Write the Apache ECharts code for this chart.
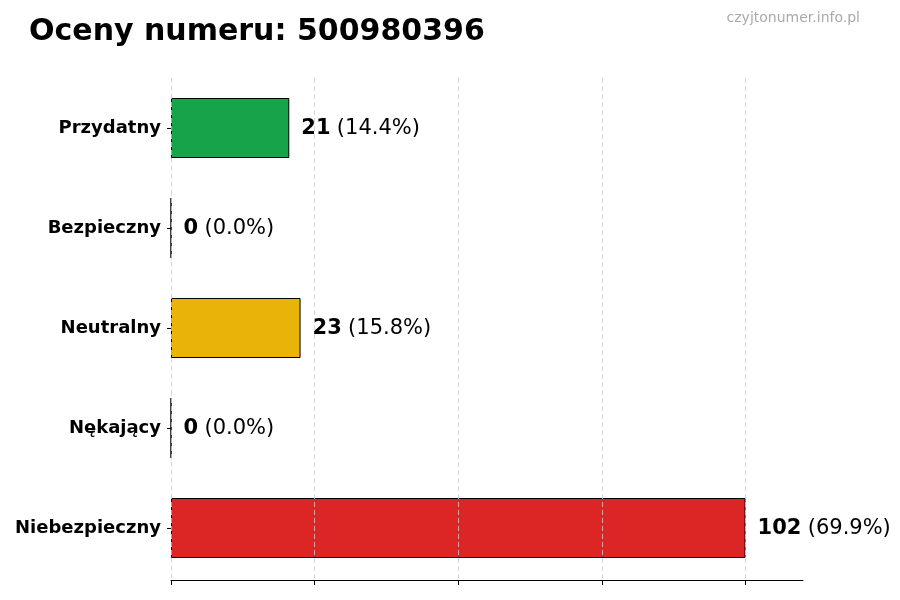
<!DOCTYPE html>
<html>
<head>
<meta charset="utf-8">
<script src="https://cdn.jsdelivr.net/npm/echarts@6/dist/echarts.min.js"></script>
<style>
html,body{margin:0;padding:0;background:#fff;}
#c{width:900px;height:600px;}
</style>
</head>
<body>
<div id="c"></div>
<script>
const categories = ["Przydatny", "Bezpieczny", "Neutralny", "Nękający", "Niebezpieczny"];
const counts = [21, 0, 23, 0, 102];
const colors = ["#17a34a", "#9ca3af", "#eab308", "#6b7280", "#dc2626"];
const titleText = "Oceny numeru: 500980396";
const watermark = "czyjtonumer.info.pl";

const total = counts.reduce((a, b) => a + b, 0);
const maxVal = Math.max(...counts);
const tickVals = [0, 1, 2, 3, 4].map(k => maxVal * k / 4);

const chart = echarts.init(document.getElementById('c'));
chart.setOption({
  backgroundColor: '#fff',
  animation: false,
  title: [
    { text: titleText, left: 24, top: 12, textStyle: { fontFamily: 'DejaVu Sans', fontWeight: 'bold', fontSize: 30, color: '#000' } },
    { text: watermark, right: 35, top: 6, textStyle: { fontFamily: 'DejaVu Sans', fontWeight: 'normal', fontSize: 14, color: '#aaaaaa' } }
  ],
  grid: { left: 171, right: 97, top: 78, bottom: 22 },
  xAxis: {
    type: 'value',
    min: 0,
    max: maxVal * 1.1,
    interval: maxVal / 4,
    offset: 2,
    z: 3,
    axisLine: { show: true, lineStyle: { color: '#000', width: 1 } },
    axisTick: { show: true, length: 5, customValues: tickVals, lineStyle: { color: '#000' } },
    axisLabel: { show: false },
    splitLine: { show: true, lineStyle: { color: '#cccccc', type: [5, 3], width: 0.8 } }
  },
  yAxis: {
    type: 'category',
    data: categories,
    inverse: true,
    axisLine: { show: false },
    axisTick: { show: true, length: 4, alignWithLabel: true, lineStyle: { color: '#000' } },
    axisLabel: { fontFamily: 'DejaVu Sans', fontWeight: 'bold', fontSize: 18, color: '#000', margin: 10 }
  },
  series: [{
    type: 'bar',
    data: counts.map((v, i) => ({ value: v, itemStyle: { color: colors[i] } })),
    barWidth: '60%',
    itemStyle: { borderColor: '#000', borderWidth: 1 },
    label: {
      show: true,
      position: 'right',
      distance: 12,
      offset: [0, 1],
      formatter: p => '{b|' + p.value + '} {n|(' + (p.value / total * 100).toFixed(1) + '%)}',
      rich: {
        b: { fontFamily: 'DejaVu Sans', fontWeight: 'bold', fontSize: 21, color: '#000' },
        n: { fontFamily: 'DejaVu Sans', fontWeight: 'normal', fontSize: 21, color: '#000', padding: [0, 0, 0, 3] }
      }
    }
  }]
});
</script>
</body>
</html>
